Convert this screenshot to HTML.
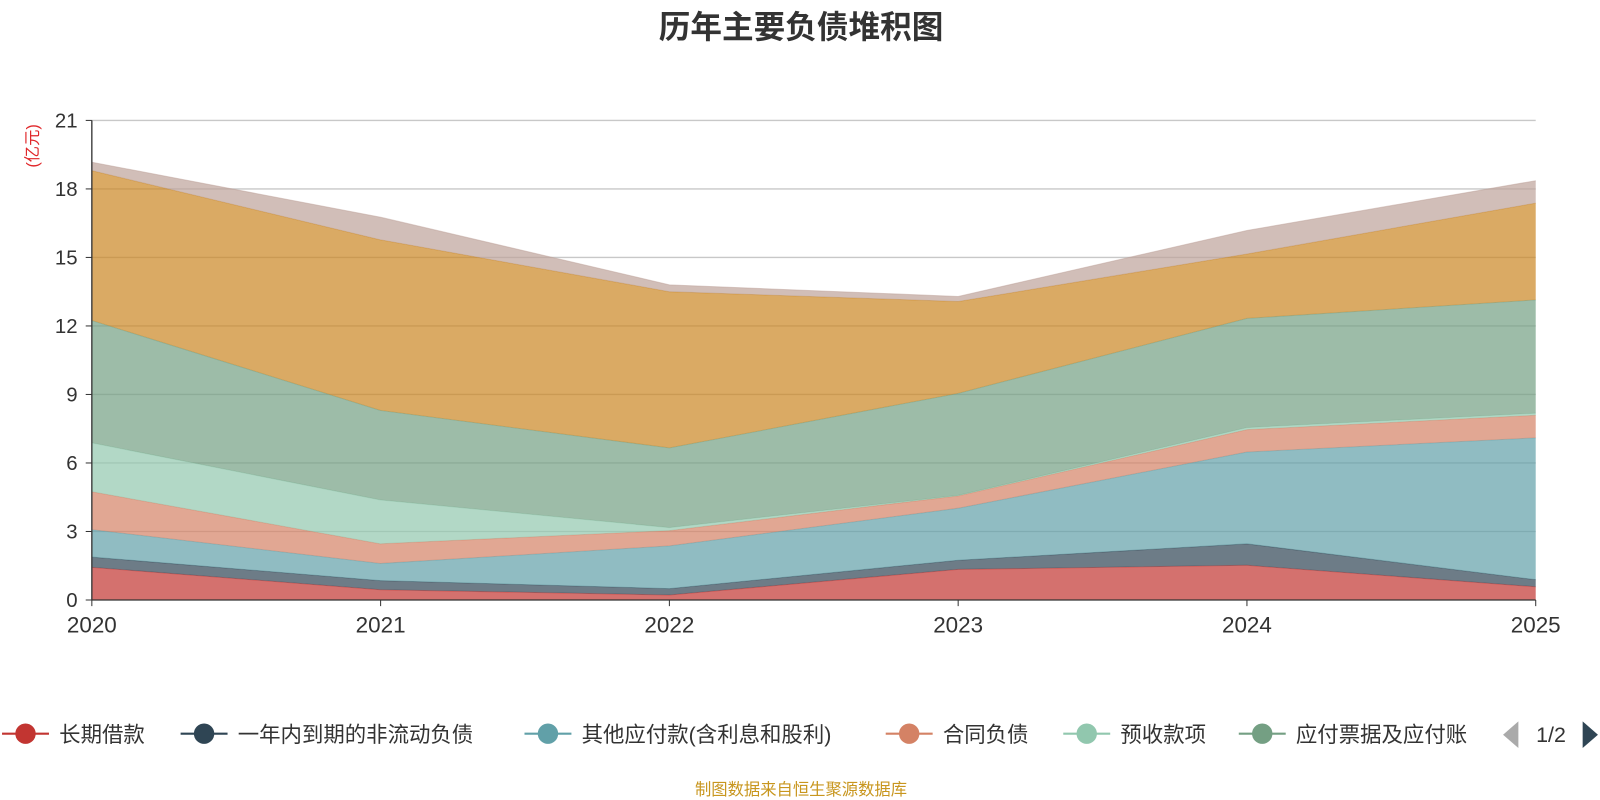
<!DOCTYPE html>
<html><head><meta charset="utf-8">
<style>
html,body{margin:0;padding:0;background:#fff;}
svg{display:block;font-family:"Liberation Sans","Noto Sans CJK SC",sans-serif;}
</style></head>
<body>
<svg id="chart" width="1600" height="800" viewBox="0 0 1568 784">
<text x="785" y="37" text-anchor="middle" font-size="31" font-weight="bold" fill="#333">历年主要负债堆积图</text>
<text transform="translate(37,143) rotate(-90)" text-anchor="middle" font-size="16" fill="#e0272a">(亿元)</text>
<g id="grid"></g><g id="areas"></g><g id="axes"></g><g id="legend"></g>
<text x="785" y="779" text-anchor="middle" font-size="16" fill="#c8961e">制图数据来自恒生聚源数据库</text>
</svg>
<script>
const categories=["2020","2021","2022","2023","2024","2025"];
const seriesNames=["长期借款","一年内到期的非流动负债","其他应付款(含利息和股利)","合同负债","预收款项","应付票据及应付账款","应付职工薪酬","应交税费"];
const s1=[1.43,0.45,0.22,1.34,1.52,0.58];
const s2=[0.45,0.40,0.28,0.40,0.94,0.31];
const s3=[1.20,0.75,1.87,2.28,4.02,6.21];
const s4=[1.66,0.86,0.67,0.54,0.98,0.99];
const s5=[2.14,1.92,0.13,0.02,0.09,0.09];
const s6=[5.36,3.92,3.49,4.47,4.78,4.96];
const s7=[6.56,7.47,6.84,4.02,2.82,4.24];
const s8=[0.37,0.99,0.30,0.22,1.03,0.98];
const yTicks=[0,3,6,9,12,15,18,21];
const series=[s1,s2,s3,s4,s5,s6,s7,s8];
const colors=["#c23531","#2f4554","#61a0a8","#d48265","#91c7ae","#749f83","#ca8622","#bda29a"];
const NS="http://www.w3.org/2000/svg";
const X0=90,X1=1505,Y0=588,Y1=118,YMAX=21;
const xs=i=>X0+(X1-X0)*i/(categories.length-1);
const ys=v=>Y0-(Y0-Y1)*v/YMAX;
function mk(tag,attrs,parent){const e=document.createElementNS(NS,tag);for(const k in attrs)e.setAttribute(k,attrs[k]);parent.appendChild(e);return e;}
const grid=document.getElementById('grid'),areas=document.getElementById('areas'),axes=document.getElementById('axes'),legend=document.getElementById('legend');
yTicks.forEach(t=>{
  if(t>0){const l=mk('line',{x1:X0,x2:X1,y1:ys(t),y2:ys(t),stroke:'#c8c8c8','stroke-width':1.3},grid);
  
  }
  const tk=mk('line',{x1:X0-6,x2:X0,y1:ys(t),y2:ys(t),stroke:'#333'},axes);
  
  
  const tx=mk('text',{x:X0-14,y:ys(t)+7,'text-anchor':'end','font-size':20,fill:'#333'},axes);
  tx.textContent=t;
  
  
});
let base=categories.map(()=>0);
series.forEach((s,k)=>{
  const top=base.map((b,i)=>b+s[i]);
  let d='M'+top.map((v,i)=>xs(i)+','+ys(v)).join(' L');
  for(let i=categories.length-1;i>=0;i--)d+=' L'+xs(i)+','+ys(base[i]);
  d+=' Z';
  const p=mk('path',{d:d,fill:colors[k],'fill-opacity':0.7,stroke:'none'},areas);
  
  
  const ln=mk('polyline',{points:top.map((v,i)=>xs(i)+','+ys(v)).join(' '),fill:'none',stroke:colors[k],'stroke-opacity':0.5,'stroke-width':1},areas);
  
  
  base=top;
});
const ya=mk('line',{x1:X0,x2:X0,y1:Y1,y2:Y0,stroke:'#333','stroke-width':1.3},axes);


const xa=mk('line',{x1:X0,x2:X1,y1:Y0,y2:Y0,stroke:'#333','stroke-width':1.3},axes);


categories.forEach((c,i)=>{
  const tk=mk('line',{x1:xs(i),x2:xs(i),y1:Y0,y2:Y0+6,stroke:'#333'},axes);
  
  
  const t=mk('text',{x:xs(i),y:620,'text-anchor':'middle','font-size':22,fill:'#333'},axes);
  t.textContent=c;
  
  
});
const legItems=[[0,"长期借款"],[175,"一年内到期的非流动负债"],[512,"其他应付款(含利息和股利)"],[866,"合同负债"],[1040,"预收款项"],[1212,"应付票据及应付账"]];
legItems.forEach(([x,n],k)=>{
  const g=mk('g',{},legend);
  
  
  mk('line',{x1:x+2,x2:x+48,y1:719,y2:719,stroke:colors[k],'stroke-width':2},g);
  mk('circle',{cx:x+25,cy:719,r:10,fill:colors[k]},g);
  const t=mk('text',{x:x+58,y:727,'font-size':21,fill:'#333'},g);
  t.textContent=n;
});
const pl=mk('path',{d:'M1488,707 L1488,733 L1473,720 Z',fill:'#aaa'},legend);


const pt=mk('text',{x:1520,y:727,'text-anchor':'middle','font-size':21,fill:'#333'},legend);
pt.textContent='1/2';


const pn=mk('path',{d:'M1551,707 L1551,733 L1566,720 Z',fill:'#2f4554'},legend);


</script>
</body></html>
